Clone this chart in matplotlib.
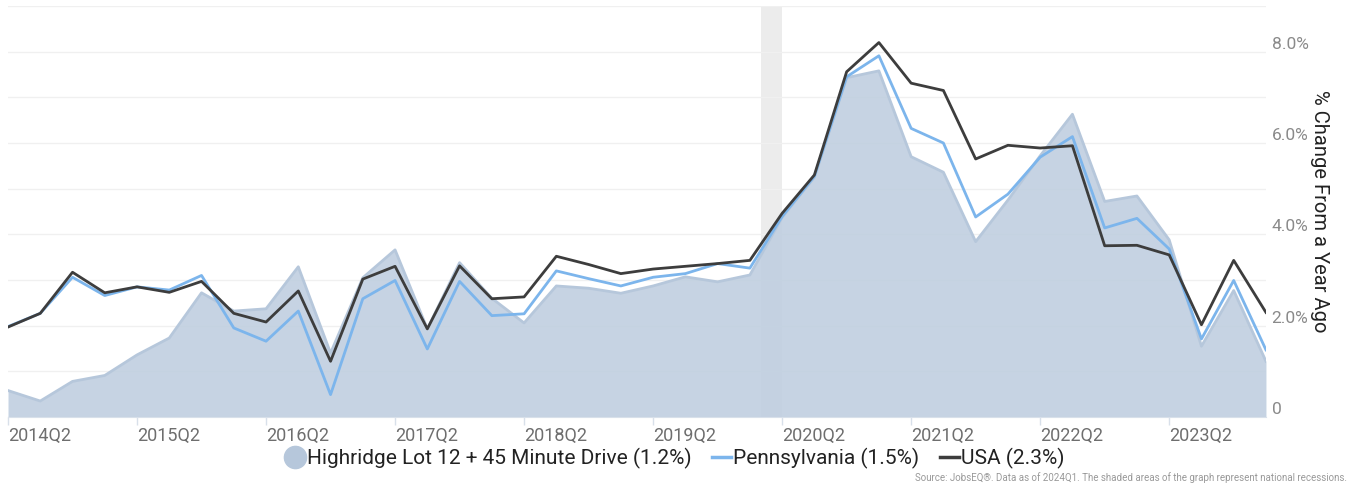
import numpy as np
import matplotlib.pyplot as plt
from matplotlib.lines import Line2D

plt.rcParams['font.family'] = ['Roboto', 'DejaVu Sans']

quarters = [f"{y}Q{q}" for y in range(2014, 2025) for q in range(1, 5)][1:41]

# % change from a year ago
highridge = [0.58, 0.35, 0.78, 0.91, 1.36, 1.73, 2.72, 2.32, 2.37, 3.29,
             1.40, 3.05, 3.66, 1.93, 3.38, 2.60, 2.06, 2.87, 2.82, 2.71,
             2.87, 3.07, 2.96, 3.11, 4.37, 5.25, 7.43, 7.58, 5.70, 5.36,
             3.84, 4.75, 5.72, 6.63, 4.72, 4.84, 3.88, 1.55, 2.77, 1.22]
penn = [1.98, 2.27, 3.06, 2.66, 2.85, 2.78, 3.10, 1.95, 1.66, 2.32,
        0.49, 2.59, 2.99, 1.49, 2.97, 2.22, 2.26, 3.20, 3.03, 2.87,
        3.06, 3.14, 3.36, 3.26, 4.39, 5.27, 7.45, 7.91, 6.32, 6.00,
        4.38, 4.88, 5.69, 6.14, 4.14, 4.35, 3.68, 1.71, 2.99, 1.47]
usa = [1.97, 2.27, 3.17, 2.72, 2.85, 2.73, 2.97, 2.27, 2.08, 2.76,
       1.22, 3.02, 3.30, 1.93, 3.31, 2.59, 2.63, 3.52, 3.34, 3.14,
       3.24, 3.30, 3.36, 3.43, 4.46, 5.30, 7.56, 8.20, 7.31, 7.15,
       5.65, 5.95, 5.89, 5.94, 3.75, 3.76, 3.55, 2.02, 3.43, 2.29]
series_names = ["Highridge Lot 12 + 45 Minute Drive (1.2%)",
                "Pennsylvania (1.5%)", "USA (2.3%)"]
recession = (23.35, 24)  # 2020 recession, in quarter index units

x = np.arange(len(quarters))

fig = plt.figure(figsize=(13.56, 4.84), dpi=100)
ax = fig.add_axes([0.0059, 0.1384, 0.9277, 0.8492])
ax.set_axisbelow(True)

ax.axvspan(recession[0], recession[1], color='#ececec', lw=0, zorder=0)
ax.fill_between(x, 0, highridge, color='#c0cfe0', alpha=0.9, lw=0, zorder=1)
ax.plot(x, highridge, color='#b6c7db', lw=2, zorder=1.5)
ax.plot(x, penn, color='#7cb5ec', lw=2, zorder=2)
ax.plot(x, usa, color='#3d3d3d', lw=2, zorder=3)

ax.set_xlim(0, len(quarters) - 1)
ax.set_ylim(0, 9)
ax.set_yticks(np.arange(0, 10, 1))
ax.grid(axis='y', color='#f0f0f0', lw=1)
ax.yaxis.tick_right()
ax.set_yticklabels(['0' if v == 0 else (f"{v:.1f}%" if v % 2 == 0 else '') for v in range(10)])
ax.tick_params(axis='y', length=0, pad=4, labelsize=12.5, labelcolor='#8a8a8a')
for lab in ax.get_yticklabels():
    lab.set_va('bottom')
ax.yaxis.set_label_position('right')
ax.set_ylabel('% Change From a Year Ago', rotation=270, fontsize=14.5,
              color='#222222', labelpad=15)

ticks = x[::4]
ax.set_xticks(ticks)
ax.set_xticklabels([quarters[i] for i in ticks], ha='left')
ax.tick_params(axis='x', length=6, width=1, color='#d8e0ea', labelsize=13,
               labelcolor='#6e6e6e', pad=1)

for s in ['top', 'right', 'left']:
    ax.spines[s].set_visible(False)
ax.spines['bottom'].set_color('#d8e0ea')
ax.spines['bottom'].set_zorder(4)

handles = [Line2D([], [], ls='', marker='o', markersize=16, color='#b6c7db'),
           Line2D([], [], color='#7cb5ec', lw=2.5),
           Line2D([], [], color='#3d3d3d', lw=2.5)]
fig.legend(handles, series_names, loc='center', bbox_to_anchor=(0.498, 0.052),
           ncol=3, frameon=False, fontsize=15, handlelength=0.9,
           handletextpad=0.1, columnspacing=1.0, labelcolor='#222222',
           borderpad=0.1)

fig.text(0.993, 0.003, 'Source: JobsEQ®. Data as of 2024Q1. The shaded areas of the graph represent national recessions.',
         ha='right', va='bottom', fontsize=7, color='#999999')

fig.savefig('out.png', dpi=100)
